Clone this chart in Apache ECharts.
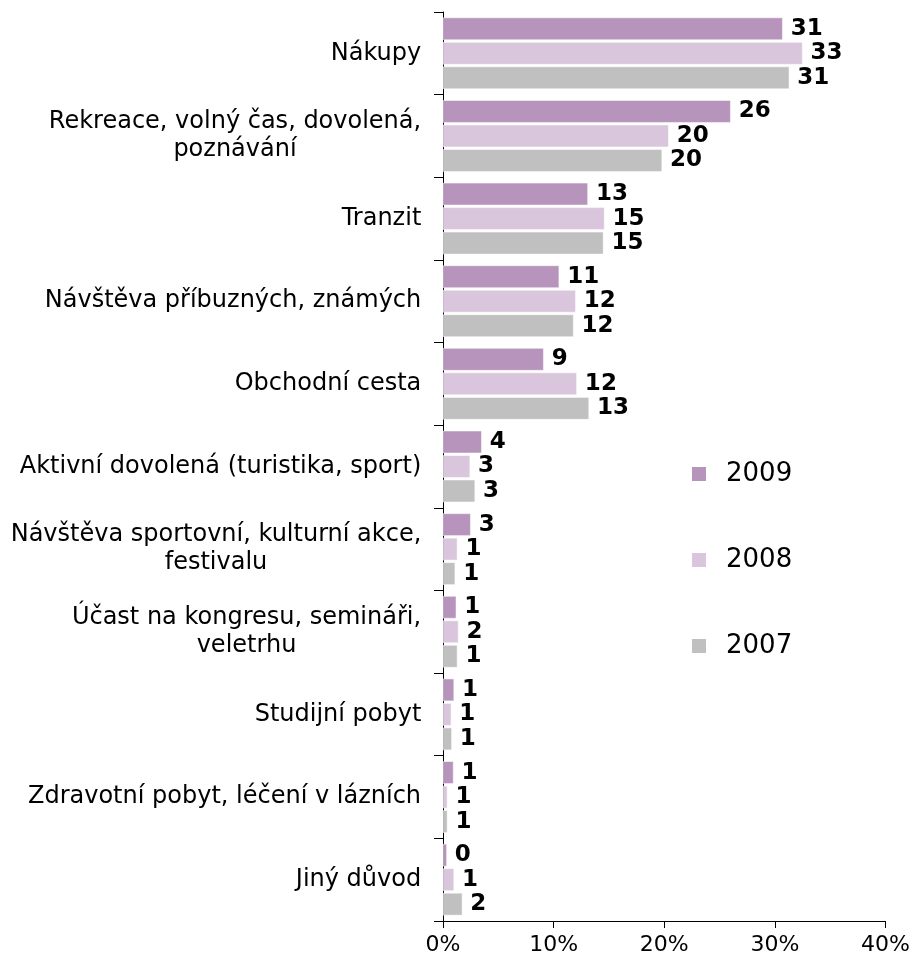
<!DOCTYPE html>
<html>
<head>
<meta charset="utf-8">
<script src="https://cdn.jsdelivr.net/npm/echarts@6/dist/echarts.min.js"></script>
<style>
  html, body { margin: 0; padding: 0; background: #fff; }
  #chart { width: 913px; height: 962px; }
</style>
</head>
<body>
<div id="chart"></div>
<script>
// kategorie (shora dolu)
const categories = [
  "Nákupy",
  "Rekreace, volný čas, dovolená,\npoznávání",
  "Tranzit",
  "Návštěva příbuzných, známých",
  "Obchodní cesta",
  "Aktivní dovolená (turistika, sport)",
  "Návštěva sportovní, kulturní akce,\nfestivalu",
  "Účast na kongresu, semináři,\nveletrhu",
  "Studijní pobyt",
  "Zdravotní pobyt, léčení v lázních",
  "Jiný důvod"
];
const years = ["2009", "2008", "2007"];

// delky sloupcu (%)
const values2009 = [30.7, 26.0, 13.1, 10.5, 9.1, 3.5, 2.5, 1.2, 1.0, 0.95, 0.35];
const values2008 = [32.5, 20.4, 14.6, 12.0, 12.1, 2.45, 1.3, 1.4, 0.75, 0.4, 1.0];
const values2007 = [31.3, 19.8, 14.5, 11.8, 13.2, 2.9, 1.1, 1.3, 0.8, 0.4, 1.75];

// popisky u sloupcu
const labels2009 = [31, 26, 13, 11, 9, 4, 3, 1, 1, 1, 0];
const labels2008 = [33, 20, 15, 12, 12, 3, 1, 2, 1, 1, 1];
const labels2007 = [31, 20, 15, 12, 13, 3, 1, 1, 1, 1, 2];

const colors = ["#b794bc", "#d9c6dc", "#c0c0c0"];
const FONT = "DejaVu Sans";
const catFontSize = 24;

// sirka radku pro vycentrovani viceradkovych popisku
const ctx = document.createElement("canvas").getContext("2d");
ctx.font = catFontSize + "px '" + FONT + "'";
const rich = {};
categories.forEach((c, i) => {
  const w = Math.max(...c.split("\n").map(s => ctx.measureText(s).width));
  rich["c" + i] = { width: Math.ceil(w) + 1, align: "center", fontSize: catFontSize, fontFamily: FONT, color: "#000", lineHeight: 28 };
});

const chartInit = echarts.init(document.getElementById("chart"));

const makeSeries = (name, data, labels, color) => ({
  name: name,
  type: "bar",
  data: data,
  barCategoryGap: "13.5%",
  barGap: "9%",
  itemStyle: { color: color, borderColor: "#fff", borderWidth: 0.5 },
  label: {
    show: true,
    position: "right",
    distance: 8,
    color: "#000",
    fontFamily: FONT,
    fontWeight: "bold",
    fontSize: 23,
    formatter: p => String(labels[p.dataIndex])
  }
});

let option = {
  animation: false,
  backgroundColor: "#fff",
  grid: {
    left: 443,
    right: 25,
    top: 12,
    bottom: 41
  },
  legend: {
    orient: "vertical",
    left: 685,
    top: 456,
    icon: "rect",
    itemWidth: 16,
    itemHeight: 16,
    itemGap: 60,
    textStyle: { fontFamily: FONT, fontSize: 26, color: "#000", lineHeight: 26, padding: [0, 0, 0, 14] },
    data: years
  },
  xAxis: {
    type: "value",
    min: 0,
    max: 40,
    interval: 10,
    axisLine: { show: true, lineStyle: { color: "#000", width: 1 } },
    axisTick: { show: true, length: 7, lineStyle: { color: "#000" } },
    splitLine: { show: false },
    axisLabel: {
      fontFamily: FONT,
      fontSize: 22,
      color: "#000",
      margin: 13,
      formatter: v => v + "%"
    }
  },
  yAxis: {
    type: "category",
    inverse: true,
    data: categories,
    axisLine: { show: true, lineStyle: { color: "#000", width: 1 } },
    axisTick: { show: true, length: 9, lineStyle: { color: "#000" } },
    axisLabel: {
      margin: 21,
      formatter: (v, i) => v.split("\n").map(s => "{c" + i + "|" + s + "}").join("\n"),
      rich: rich
    }
  },
  series: [
    makeSeries(years[0], values2009, labels2009, colors[0]),
    makeSeries(years[1], values2008, labels2008, colors[1]),
    makeSeries(years[2], values2007, labels2007, colors[2])
  ]
};
chartInit.setOption(option, true);
</script>
</body>
</html>
